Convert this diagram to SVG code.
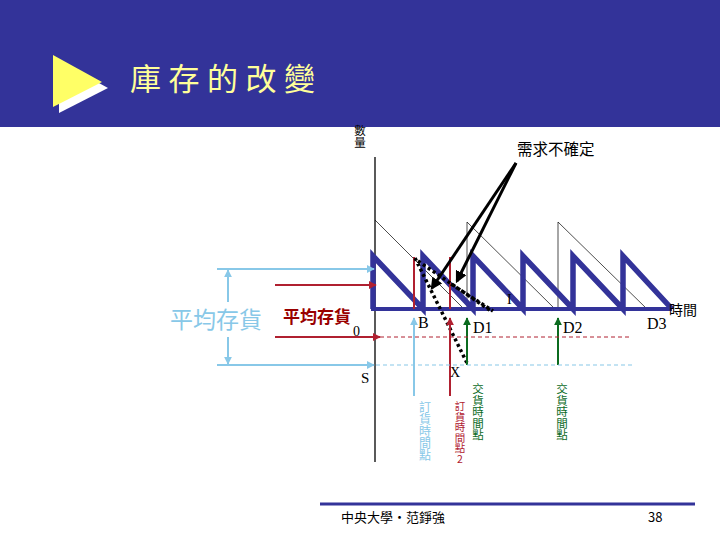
<svg xmlns="http://www.w3.org/2000/svg" width="720" height="540" viewBox="0 0 720 540">
<defs>
<style>
.cjk{font-family:"Noto Sans CJK TC","Noto Sans CJK SC",sans-serif}
.ser{font-family:"Liberation Serif","DejaVu Serif",serif}
.vert{writing-mode:vertical-rl;text-orientation:upright}
.navy{stroke:#333399;fill:none}
.thin{stroke:#000;stroke-width:0.7;fill:none}
.dot{stroke:#000;stroke-width:3.5;stroke-dasharray:3 3;fill:none}
.blue{stroke:#88C8E8;stroke-width:2;fill:none}
.red{stroke:#B02030;stroke-width:2;fill:none}
.green{stroke:#0B6B1F;stroke-width:2;fill:none}
</style>
<marker id="ab" viewBox="0 0 10 10" refX="9" refY="5" markerWidth="4" markerHeight="4" orient="auto"><path d="M0,0L10,5L0,10z" fill="#88C8E8"/></marker>
<marker id="ar" viewBox="0 0 10 10" refX="9" refY="5" markerWidth="4" markerHeight="4" orient="auto"><path d="M0,0L10,5L0,10z" fill="#B02030"/></marker>
<marker id="ag" viewBox="0 0 10 10" refX="9" refY="5" markerWidth="4" markerHeight="4" orient="auto"><path d="M0,0L10,5L0,10z" fill="#0B6B1F"/></marker>
<marker id="ak" viewBox="0 0 10 10" refX="8" refY="5" markerWidth="4" markerHeight="4" orient="auto"><path d="M0,0L10,5L0,10z" fill="#000"/></marker>
</defs>
<rect width="720" height="540" fill="#fff"/>
<g id="header">
<rect x="0" y="0" width="720" height="127" fill="#333399"/>
<polygon points="59,61 59,113 108,88" fill="#fff"/>
<polygon points="53,55 53,107 102,82" fill="#FFFF66"/>
<text x="130" y="90" class="cjk" font-size="31" letter-spacing="7.5" fill="#FFFF99">庫存的改變</text>
</g>
<g id="axes">
<line x1="375" y1="157" x2="375" y2="462" stroke="#000" stroke-width="1.3"/>
<text x="360" y="125" class="cjk vert" font-size="11.5" fill="#000">數量</text>
</g>
<g id="connectors">
<path class="thin" d="M375,220L464,309M467,309V222L555,309M558,309V222L647,309"/>
<path class="navy" stroke-width="5.5" stroke-linejoin="miter" d="M373,309V256L423,309V256L473,309V256L523,309V256L573,309V256L623,309V256L672,309"/>
<line x1="371" y1="309" x2="672" y2="309" stroke="#333399" stroke-width="4"/>
<line x1="414" y1="257" x2="414" y2="309" class="red"/>
<line x1="450" y1="257" x2="450" y2="309" class="red"/>
<path class="dot" d="M415,258L468,365M418,261L491,311M451,284L493,311"/>
<line x1="516" y1="163" x2="432" y2="288" stroke="#000" stroke-width="3" marker-end="url(#ak)"/>
<line x1="516" y1="163" x2="457" y2="281" stroke="#000" stroke-width="3" marker-end="url(#ak)"/>
<line x1="414" y1="396" x2="414" y2="318" class="blue" marker-end="url(#ab)"/>
<line x1="450" y1="396" x2="450" y2="318" class="red" marker-end="url(#ar)"/>
<line x1="467" y1="365" x2="467" y2="318" class="green" marker-end="url(#ag)"/>
<line x1="558" y1="365" x2="558" y2="318" class="green" marker-end="url(#ag)"/>
<line x1="217" y1="269" x2="374" y2="269" class="blue" marker-end="url(#ab)"/>
<line x1="217" y1="365" x2="374" y2="365" class="blue" marker-end="url(#ab)"/>
<line x1="228" y1="302" x2="228" y2="270" class="blue" marker-end="url(#ab)"/>
<line x1="228" y1="337" x2="228" y2="364" class="blue" marker-end="url(#ab)"/>
<line x1="275" y1="285" x2="376" y2="285" class="red" marker-end="url(#ar)"/>
<line x1="275" y1="337" x2="380" y2="337" class="red" marker-end="url(#ar)"/>
<line x1="380" y1="337" x2="632" y2="337" stroke="#B02030" stroke-width="1" stroke-dasharray="4 3"/>
<line x1="376" y1="365" x2="632" y2="365" stroke="#88C8E8" stroke-width="1.2" stroke-dasharray="4 3"/>
</g>
<g id="labels">
<text x="170" y="328" class="cjk" font-size="23" fill="#88C8E8">平均存貨</text>
<text x="283" y="323" class="cjk" font-size="17" font-weight="bold" fill="#990000">平均存貨</text>
<text x="353" y="336" class="ser" font-size="14" fill="#000">0</text>
<text x="418" y="328" class="ser" font-size="16" fill="#000">B</text>
<text x="473" y="333" class="ser" font-size="16" fill="#000">D1</text>
<text x="563" y="333" class="ser" font-size="16" fill="#000">D2</text>
<text x="647" y="329" class="ser" font-size="16" fill="#000">D3</text>
<text x="669" y="315" class="cjk" font-size="14" fill="#000">時間</text>
<text x="507" y="304" class="ser" font-size="14" fill="#000">I</text>
<text x="361" y="383" class="ser" font-size="15" fill="#000">S</text>
<text x="450" y="377" class="ser" font-size="14" fill="#000">X</text>
<text x="517" y="155" class="cjk" font-size="15.5" fill="#000">需求不確定</text>
<text x="425" y="401" class="cjk vert" font-size="12" fill="#88C8E8">訂貨時間點</text>
<text x="460" y="401" class="cjk vert" font-size="10.5" fill="#B02030">訂貨時間點2</text>
<text x="478" y="383" class="cjk vert" font-size="11.5" fill="#0B6B1F">交貨時間點</text>
<text x="562" y="383" class="cjk vert" font-size="11.5" fill="#0B6B1F">交貨時間點</text>
</g>
<g id="footer">
<line x1="320" y1="504" x2="695" y2="504" stroke="#333399" stroke-width="3"/>
<text x="341" y="522" class="cjk" font-size="13" fill="#000">中央大學‧范錚強</text>
<text x="648" y="522" class="cjk" font-size="13" fill="#000">38</text>
</g>
</svg>
